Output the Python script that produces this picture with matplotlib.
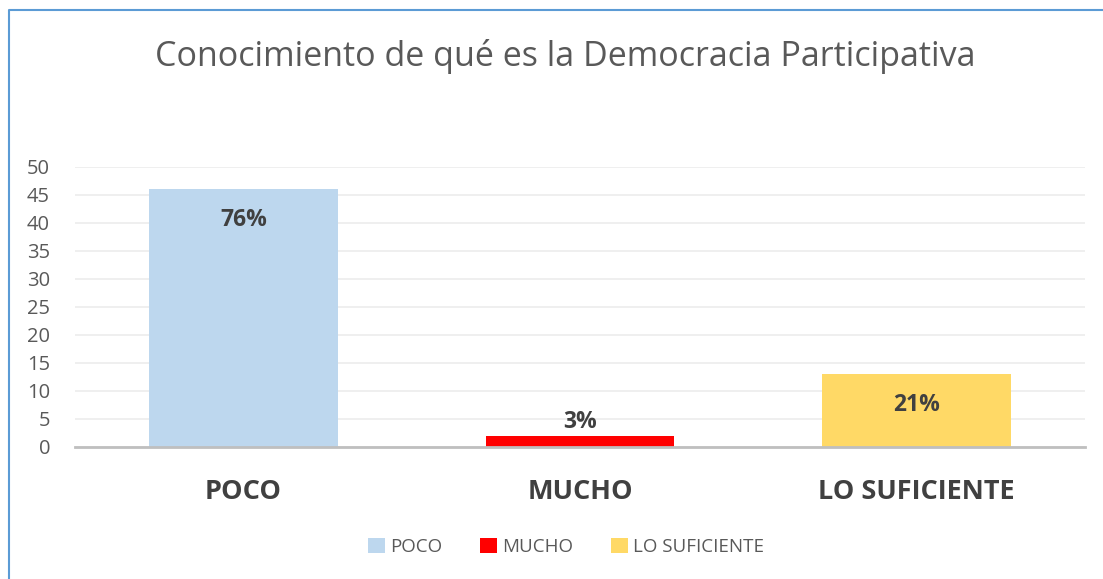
import matplotlib.pyplot as plt
from matplotlib.lines import Line2D
from matplotlib.patches import Patch

# data
categories = ["POCO", "MUCHO", "LO SUFICIENTE"]
counts = [46, 2, 13]
pct_labels = ["76%", "3%", "21%"]
colors = ["#bdd7ee", "#ff0000", "#ffd966"]
yticks = [0, 5, 10, 15, 20, 25, 30, 35, 40, 45, 50]

plt.rcParams['font.family'] = ['Open Sans', 'DejaVu Sans']

fig = plt.figure(figsize=(11.03, 5.79), dpi=100)
ax = fig.add_axes([75 / 1103, 1 - 447 / 579, 1010 / 1103, 280 / 579])

x = list(range(len(categories)))
bars = ax.bar(x, counts, width=0.56, color=colors, zorder=3)

ax.set_xlim(-0.5, len(categories) - 0.5)
ax.set_ylim(0, 50)
ax.set_yticks(yticks)
ax.set_xticks(x)
ax.set_xticklabels(categories, fontsize=19.5, fontweight='bold', color='#404040')
ax.tick_params(axis='x', length=0, pad=23)
ax.tick_params(axis='y', length=0, pad=18, labelsize=14.5, labelcolor='#595959')
ax.grid(axis='y', color='#ececec', linewidth=1.2, zorder=0)

for s in ['top', 'right', 'left']:
    ax.spines[s].set_visible(False)
ax.spines['bottom'].set_color('#bfbfbf')
ax.spines['bottom'].set_linewidth(2)
ax.spines['bottom'].set_zorder(4)

# data labels: inside end, or above when the bar is too short
for b, lab, v in zip(bars, pct_labels, counts):
    cx = b.get_x() + b.get_width() / 2
    off = -22 if v > 5 else 10
    ax.annotate(lab, (cx, v), xytext=(0, off), textcoords='offset points',
                ha='center', va='center', fontsize=16.5, fontweight='bold',
                color='#404040', zorder=5)

fig.text(565 / 1103, 1 - 56 / 579, "Conocimiento de qué es la Democracia Participativa",
         ha='center', va='center', fontsize=24.5, color='#595959')

handles = [Patch(facecolor=c, edgecolor='none') for c in colors]
fig.legend(handles, categories, loc='center', bbox_to_anchor=(566 / 1103, 1 - 547 / 579),
           ncol=3, frameon=False, fontsize=13.5, handlelength=0.9, handleheight=0.9,
           handletextpad=0.3, columnspacing=2.0, labelcolor='#595959')

# chart frame (top and left edges visible)
fig.add_artist(Line2D([9 / 1103, 9 / 1103, 1.0], [0.0, 1 - 9.5 / 579, 1 - 9.5 / 579],
                      transform=fig.transFigure, color='#5b9bd5', linewidth=1.5))

fig.savefig("out.png", dpi=100)
